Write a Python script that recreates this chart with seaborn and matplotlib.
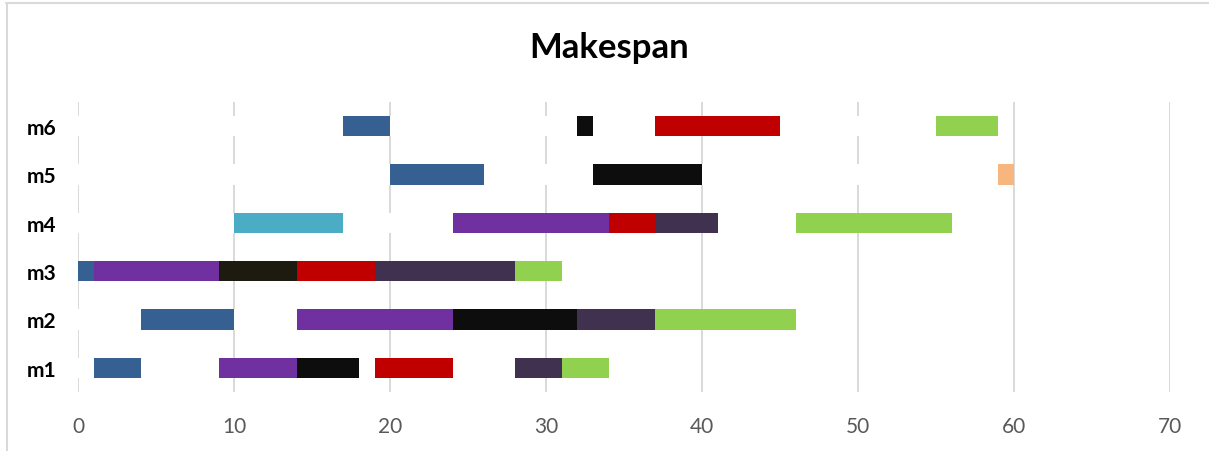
import matplotlib
matplotlib.use("Agg")
import matplotlib.pyplot as plt
from matplotlib.lines import Line2D
import numpy as np
import pandas as pd
import seaborn as sns

# ---------------- data ----------------
title = "Makespan"
machines = ["m1", "m2", "m3", "m4", "m5", "m6"]
x_ticks = [0, 10, 20, 30, 40, 50, 60, 70]

task_machine = ["m1", "m1", "m1", "m1", "m1", "m1",
                "m2", "m2", "m2", "m2", "m2",
                "m3", "m3", "m3", "m3", "m3", "m3",
                "m4", "m4", "m4", "m4", "m4",
                "m5", "m5", "m5",
                "m6", "m6", "m6", "m6"]
task_job = ["J1", "J2", "J3", "J4", "J5", "J6",
            "J1", "J2", "J3", "J5", "J6",
            "J1", "J2", "J9", "J4", "J5", "J6",
            "J7", "J2", "J4", "J5", "J6",
            "J1", "J3", "J8",
            "J1", "J3", "J4", "J6"]
task_start = [1, 9, 14, 19, 28, 31,
              4, 14, 24, 32, 37,
              0, 1, 9, 14, 19, 28,
              10, 24, 34, 37, 46,
              20, 33, 59,
              17, 32, 37, 55]
task_end = [4, 14, 18, 24, 31, 34,
            10, 24, 32, 37, 46,
            1, 9, 14, 19, 28, 31,
            17, 34, 37, 41, 56,
            26, 40, 60,
            20, 33, 45, 59]

# ---------------- style ----------------
palette = {
    "J1": "#366092",
    "J2": "#7030A0",
    "J3": "#0D0D0D",
    "J4": "#C00000",
    "J5": "#403151",
    "J6": "#92D050",
    "J7": "#4BACC6",
    "J8": "#F8B67F",
    "J9": "#1D1B10",
}
grid_color = "#D9D9D9"
bar_h = 0.414

sns.set_theme(style="white")
plt.rcParams["font.family"] = ["Lato", "DejaVu Sans"]

df = pd.DataFrame({"machine": task_machine, "job": task_job,
                   "start": task_start, "end": task_end})
ypos = {m: i for i, m in enumerate(machines)}
df["y"] = df["machine"].map(ypos)
df["dur"] = df["end"] - df["start"]

W, H = 1209, 452
fig = plt.figure(figsize=(W / 100, H / 100), dpi=100)
fig.patch.set_facecolor("white")
ax = fig.add_axes([78.3 / W, 1 - 393 / H, (1170 - 78.3) / W, 290 / H])

# white spacer bars (as in a stacked-bar Gantt), derived from the data
for m, g in df.groupby("machine"):
    g = g.sort_values("start")
    prev = 0
    for s, e in zip(g["start"], g["end"]):
        if s > prev:
            ax.barh(ypos[m], s - prev, left=prev, height=bar_h,
                    color="white", linewidth=0, zorder=1)
        prev = max(prev, e)

# task bars
ax.barh(df["y"], df["dur"], left=df["start"], height=bar_h,
        color=[palette[j] for j in df["job"]], linewidth=0, zorder=2)

ax.set_xlim(0, 70)
ax.set_ylim(-0.5, len(machines) - 0.5)
ax.set_xticks(x_ticks)
ax.set_xticklabels([str(t) for t in x_ticks], color="#595959", fontsize=15)
ax.set_yticks(range(len(machines)))
ax.set_yticklabels(machines, fontsize=15, fontweight="bold", color="black")
ax.tick_params(axis="x", length=0, pad=17)
ax.tick_params(axis="y", length=0, pad=16)
ax.set_axisbelow(True)
ax.grid(axis="x", color=grid_color, linewidth=1.4)
ax.grid(axis="y", visible=False)
for sp in ax.spines.values():
    sp.set_visible(False)
ax.set_facecolor("none")

fig.text(609 / W, 1 - 48 / H, title, ha="center", va="center",
         fontsize=25, fontweight="bold", color="black")

# chart-area border (top and left visible)
fig.add_artist(Line2D([6 / W, 1], [1 - 4 / H, 1 - 4 / H],
                      transform=fig.transFigure, color=grid_color, lw=1.5))
fig.add_artist(Line2D([7 / W, 7 / W], [0, 1 - 4 / H],
                      transform=fig.transFigure, color=grid_color, lw=1.5))

fig.savefig("out.png", dpi=100)
